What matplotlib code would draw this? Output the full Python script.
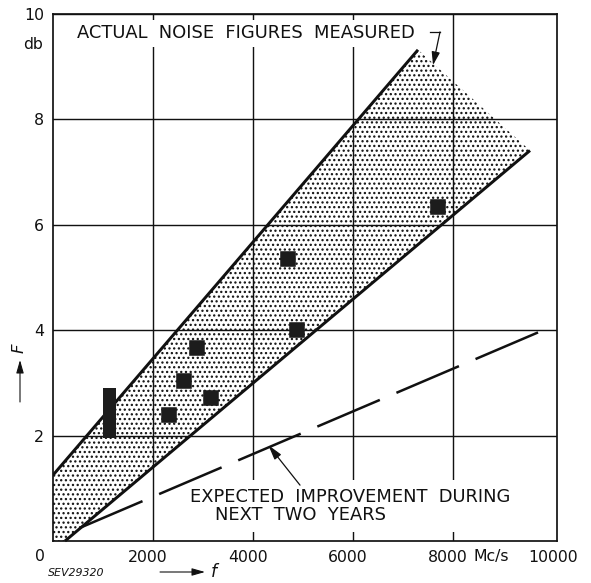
import matplotlib
matplotlib.use("Agg")
import matplotlib.pyplot as plt
from matplotlib.patches import Polygon, Rectangle
from matplotlib.transforms import ScaledTranslation

# ---- data -------------------------------------------------------------
# measured noise figures (frequency in Mc/s, noise figure in db)
meas_f = [2326, 2626, 2874, 3160, 4706, 4874, 7706]
meas_F = [2.39, 3.04, 3.66, 2.72, 5.36, 4.00, 6.33]

# spread of values measured at one frequency
spread_f = 1126
spread_lo = 1.95
spread_hi = 2.90

# limits of the band of measured noise figures
upper_f = [0, 7300]
upper_F = [1.25, 9.32]
lower_f = [240, 9540]
lower_F = [0.0, 7.41]

# expected improvement during the next two years
expected_f = [540, 9854]
expected_F = [0.25, 4.02]

x_ticks = [2000, 4000, 6000, 8000, 10000]
x_labels = ["2000", "4000", "6000", "8000", "10000"]
y_ticks = [2, 4, 6, 8, 10]
y_labels = ["2", "4", "6", "8", "10"]

# ---- figure -----------------------------------------------------------
DPI = 113
W, H = 591, 583
plt.rcParams["font.family"] = ["DejaVu Sans"]
plt.rcParams["hatch.linewidth"] = 0.9
plt.rcParams["lines.scale_dashes"] = False

fig = plt.figure(figsize=((W + 0.01) / DPI, (H + 0.01) / DPI), dpi=DPI)
ax = fig.add_axes([53 / W, (H - 541) / H, 504 / W, 527 / H])
ax.set_xlim(0, 10080)
ax.set_ylim(0, 10)

ink = "#111111"

# stippled band
band = Polygon(
    [(upper_f[0], 0.0), (upper_f[0], upper_F[0]), (upper_f[1], upper_F[1]),
     (lower_f[1], lower_F[1]), (lower_f[0], lower_F[0])],
    closed=True, facecolor="white", edgecolor=ink, linewidth=0,
    hatch="....", zorder=1)
ax.add_patch(band)

# grid
ax.set_xticks(x_ticks, x_labels)
ax.set_yticks(y_ticks, y_labels)
ax.grid(True, color=ink, linewidth=0.9)
xgrid = ax.get_xgridlines()
for gl in xgrid + ax.get_ygridlines():
    gl.set_zorder(2)
xgrid[-1].set_visible(False)  # the right frame takes its place
ax.tick_params(length=0, labelsize=10, colors=ink, pad=5.5)
shift = ScaledTranslation(-5 / DPI, 0, fig.dpi_scale_trans)
for lab in ax.get_xticklabels()[:-1]:
    lab.set_transform(lab.get_transform() + shift)
for s in ax.spines.values():
    s.set_linewidth(1.1)
    s.set_color(ink)
    s.set_zorder(6)

# band limits
ax.plot(upper_f, upper_F, color=ink, linewidth=1.9, zorder=4,
        solid_capstyle="butt")
ax.plot(lower_f, lower_F, color=ink, linewidth=1.9, zorder=4,
        solid_capstyle="butt", clip_on=False)

# expected improvement
ax.plot(expected_f, expected_F, color=ink, linewidth=1.6, zorder=4,
        dashes=(43.3, 11.5), dash_capstyle="butt")

# measured points
ax.plot(meas_f, meas_F, linestyle="none", marker="s", markersize=8.6,
        color="#1c1c1c", zorder=5)
ax.bar([spread_f], [spread_hi - spread_lo], bottom=[spread_lo], width=266,
       color="#1c1c1c", zorder=5)

# white panels behind the annotations
ax.add_patch(Rectangle((0.038, 0.937), 0.706, 0.052, transform=ax.transAxes,
                       facecolor="white", edgecolor="none", zorder=3))
ax.add_patch(Rectangle((0.262, 0.017), 0.675, 0.099, transform=ax.transAxes,
                       facecolor="white", edgecolor="none", zorder=3))

txt_kw = dict(fontsize=11.4, color=ink, va="center", ha="left", zorder=7)
ax.text(0.0476, 0.9636, "ACTUAL  NOISE  FIGURES  MEASURED",
        transform=ax.transAxes, **txt_kw)
ax.text(0.272, 0.0835, "EXPECTED  IMPROVEMENT  DURING",
        transform=ax.transAxes, **txt_kw)
ax.text(0.321, 0.049, "NEXT  TWO  YEARS", transform=ax.transAxes, **txt_kw)

# pointer arrows
ax.plot([7540, 7740], [9.66, 9.66], color=ink, linewidth=0.8, zorder=7)
ax.annotate("", xy=(7600, 9.03), xytext=(7740, 9.66),
            arrowprops=dict(arrowstyle="-|>,head_length=0.7,head_width=0.22",
                            color=ink, lw=0.8, shrinkA=0, shrinkB=0),
            zorder=7)
ax.annotate("", xy=(4306, 1.82), xytext=(4940, 1.06),
            arrowprops=dict(arrowstyle="-|>,head_length=0.8,head_width=0.22",
                            color=ink, lw=0.8, shrinkA=0, shrinkB=0),
            zorder=7)

# axis captions
fig.text(39.5 / W, (H - 556) / H, "0", fontsize=10, color=ink,
         ha="center", va="center")
fig.text(43 / W, (H - 44) / H, "db", fontsize=10, color=ink,
         ha="right", va="center")
fig.text(473 / W, (H - 556) / H, "Mc/s", fontsize=10, color=ink,
         ha="left", va="center")

fig.add_artist(plt.Annotation(
    "", xy=(20 / W, (H - 360) / H), xytext=(20 / W, (H - 402) / H),
    xycoords="figure fraction", textcoords="figure fraction",
    arrowprops=dict(arrowstyle="-|>,head_length=0.7,head_width=0.2",
                    color=ink, lw=0.7, shrinkA=0, shrinkB=0)))
fig.text(19 / W, (H - 348) / H, "F", fontsize=10.5, color=ink, rotation=90,
         ha="center", va="center", style="italic")

fig.text(48 / W, (H - 573) / H, "SEV29320", fontsize=7, color=ink,
         ha="left", va="center", style="italic")
fig.add_artist(plt.Annotation(
    "", xy=(205 / W, (H - 572) / H), xytext=(160 / W, (H - 572) / H),
    xycoords="figure fraction", textcoords="figure fraction",
    arrowprops=dict(arrowstyle="-|>,head_length=0.7,head_width=0.2",
                    color=ink, lw=0.7, shrinkA=0, shrinkB=0)))
fig.text(211 / W, (H - 572) / H, "f", fontsize=11, color=ink,
         ha="left", va="center", style="italic")

fig.savefig("out.png", dpi=DPI, facecolor="white")
